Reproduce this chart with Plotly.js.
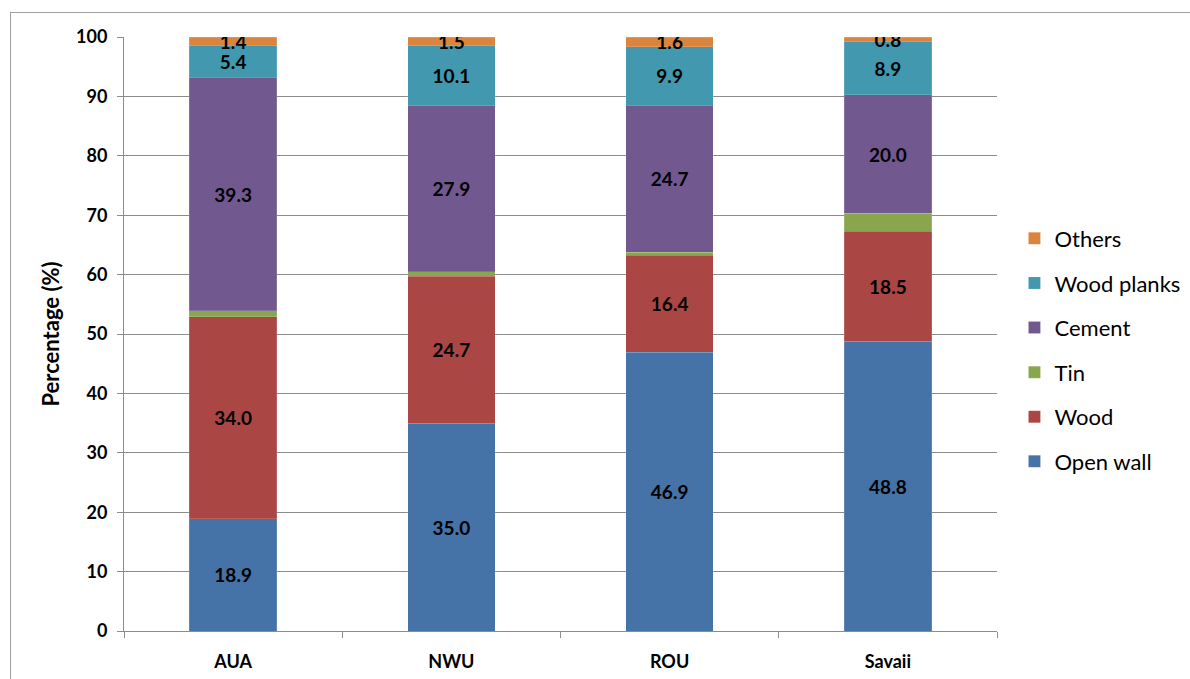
<!DOCTYPE html>
<html>
<head>
<meta charset="utf-8">
<script src="https://cdn.plot.ly/plotly-3.0.1.min.js"></script>
<style>
  html, body { margin: 0; padding: 0; background: #fff; }
  #wrap { position: relative; width: 1190px; height: 679px; overflow: hidden; }
  #chart { width: 1190px; height: 679px; }
  #frame { position: absolute; left: 10px; top: 12px; width: 1200px; height: 700px;
           border: 1.5px solid #a0a0a0; pointer-events: none; }
</style>
</head>
<body>
<div id="wrap">
  <div id="chart"></div>
  <div id="frame"></div>
</div>
<script>
const categories = ["AUA", "NWU", "ROU", "Savaii"];
const seriesNames = ["Open wall", "Wood", "Tin", "Cement", "Wood planks", "Others"];
const openWall   = [18.9, 35.0, 46.9, 48.8];
const wood       = [34.0, 24.7, 16.4, 18.5];
const tin        = [1.0, 0.8, 0.5, 3.0];
const cement     = [39.3, 27.9, 24.7, 20.0];
const woodPlanks = [5.4, 10.1, 9.9, 8.9];
const others     = [1.4, 1.5, 1.6, 0.8];
const showLabels = [true, true, false, true, true, true];
const colors = ["#4572A7", "#AA4643", "#89A54E", "#71588F", "#4198AF", "#DB843D"];

const seriesValues = [openWall, wood, tin, cement, woodPlanks, others];
const FONT = "Lato, 'Noto Sans', sans-serif";

const traces = seriesValues.map((vals, i) => ({
  type: "bar",
  name: seriesNames[i],
  x: categories,
  y: vals,
  legendgroup: "g" + i,
  legendrank: 100 - i,
  marker: { color: colors[i], line: { color: "rgba(255,255,255,0.3)", width: 0.5 } },
  text: showLabels[i] ? vals.map(v => v.toFixed(1)) : undefined,
  textposition: showLabels[i] ? "inside" : "none",
  insidetextanchor: "middle",
  textangle: 0,
  textfont: { family: FONT, size: 19, color: "#000", weight: "bold" },
  hoverinfo: "x+y+name"
}));

const layout = {
  width: 1190,
  height: 679,
  barmode: "stack",
  bargap: 0.6,
  paper_bgcolor: "#fff",
  plot_bgcolor: "#fff",
  margin: { l: 124, r: 193, t: 37, b: 48, autoexpand: false },
  uniformtext: { mode: "show", minsize: 19 },
  font: { family: FONT, color: "#000" },
  xaxis: {
    type: "category",
    showline: true,
    linecolor: "#8c8c8c",
    linewidth: 1,
    ticks: "outside",
    tickson: "boundaries",
    ticklen: 6,
    tickcolor: "#8c8c8c",
    tickfont: { family: FONT, size: 18, color: "#000", weight: "bold" },
    showgrid: false,
    ticklabelstandoff: 14
  },
  yaxis: {
    range: [0, 100],
    dtick: 10,
    showline: true,
    linecolor: "#8c8c8c",
    linewidth: 1,
    ticks: "outside",
    ticklen: 6,
    tickcolor: "#8c8c8c",
    showgrid: true,
    gridcolor: "#8c8c8c",
    gridwidth: 1,
    zeroline: false,
    tickfont: { family: FONT, size: 18, color: "#000", weight: "bold" },
    ticklabelstandoff: 6,
    title: { text: "Percentage (%)", font: { family: FONT, size: 22, color: "#000", weight: "bold" }, standoff: 10 }
  },
  legend: {
    traceorder: "grouped",
    tracegroupgap: 13,
    x: 1.02,
    xanchor: "left",
    y: 0.473,
    yanchor: "middle",
    font: { family: FONT, size: 22, color: "#000" },
    bgcolor: "rgba(0,0,0,0)"
  },
  showlegend: true
};

Plotly.newPlot("chart", traces, layout, { displayModeBar: false, staticPlot: true });
</script>
</body>
</html>
